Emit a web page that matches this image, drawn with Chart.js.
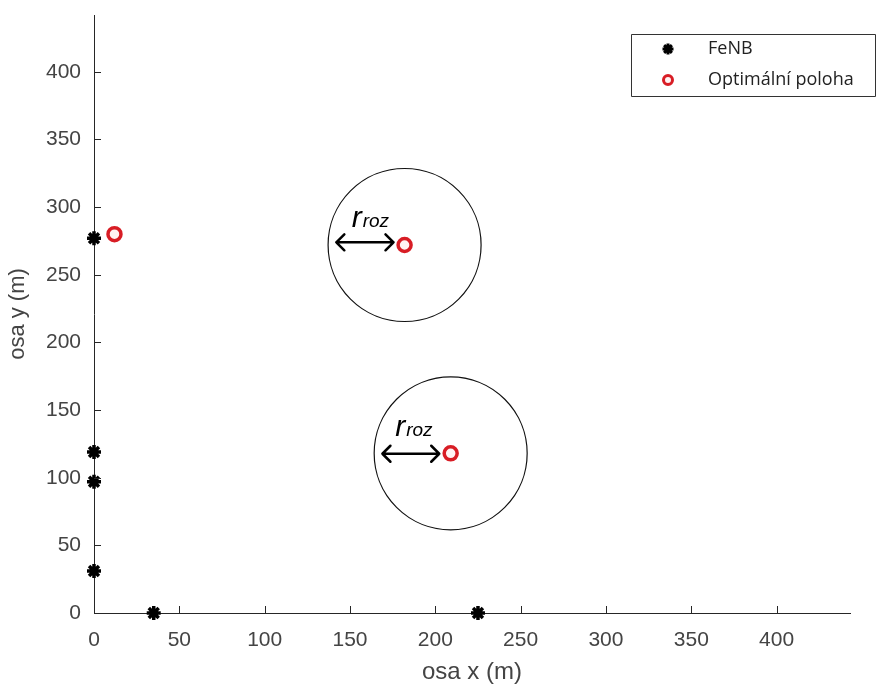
<!DOCTYPE html>
<html>
<head>
<meta charset="utf-8">
<script src="https://cdn.jsdelivr.net/npm/chart.js@4.4.1/dist/chart.umd.min.js"></script>
<style>
  html, body { margin: 0; padding: 0; background: #ffffff; }
  canvas { display: block; }
</style>
</head>
<body>
<canvas id="chart" width="876" height="691"></canvas>
<script>
// Axis ticks (m)
const xTicks = [0, 50, 100, 150, 200, 250, 300, 350, 400];
const yTicks = [0, 50, 100, 150, 200, 250, 300, 350, 400];
const xMax = 443;
const yMax = 442;

// FeNB base stations
const fenbX = [0, 0, 0, 0, 35, 225];
const fenbY = [277, 119, 97, 31, 0, 0];

// Optimal positions
const optX = [12, 182, 209];
const optY = [280, 272, 118];

// Optimal positions that get a coverage circle
const rangeIdx = [1, 2];

// r_roz arrows (start x, end x, y) and their labels
const arrowX0 = [142, 169];
const arrowX1 = [175.5, 202.3];
const arrowY = [274, 117.7];
const labelX = [151, 176.5];
const labelY = [285, 130.5];

const legendLabels = ['FeNB', 'Optimální poloha'];

const RED = '#d81d25';
const AXIS = '#262626';
const TEXT = '#444444';

const fenbPoints = fenbX.map((x, i) => ({ x, y: fenbY[i] }));
const optPoints = optX.map((x, i) => ({ x, y: optY[i] }));
const rangePoints = rangeIdx.map(i => ({ x: optX[i], y: optY[i] }));

// Inward tick marks, r_roz arrows with labels, and the boxed legend
const overlay = {
  id: 'overlay',
  afterDatasetsDraw(chart) {
    const ctx = chart.ctx;
    const xs = chart.scales.x, ys = chart.scales.y;
    const area = chart.chartArea;
    ctx.save();

    // tick marks pointing into the plot
    ctx.strokeStyle = AXIS;
    ctx.lineWidth = 1;
    ctx.beginPath();
    xTicks.forEach(v => {
      const px = Math.round(xs.getPixelForValue(v)) + 0.5;
      ctx.moveTo(px, area.bottom);
      ctx.lineTo(px, area.bottom - 7);
    });
    yTicks.forEach(v => {
      const py = Math.round(ys.getPixelForValue(v)) + 0.5;
      ctx.moveTo(area.left, py);
      ctx.lineTo(area.left + 7, py);
    });
    ctx.stroke();

    // double-headed arrows
    ctx.strokeStyle = '#000000';
    ctx.fillStyle = '#000000';
    ctx.lineWidth = 2.5;
    ctx.lineCap = 'round';
    ctx.lineJoin = 'round';
    arrowY.forEach((yv, i) => {
      const x0 = xs.getPixelForValue(arrowX0[i]);
      const x1 = xs.getPixelForValue(arrowX1[i]);
      const y = ys.getPixelForValue(yv);
      const h = 8;
      ctx.beginPath();
      ctx.moveTo(x0, y); ctx.lineTo(x1, y);
      ctx.moveTo(x0 + h, y - h); ctx.lineTo(x0, y); ctx.lineTo(x0 + h, y + h);
      ctx.moveTo(x1 - h, y - h); ctx.lineTo(x1, y); ctx.lineTo(x1 - h, y + h);
      ctx.stroke();

      const tx = xs.getPixelForValue(labelX[i]);
      const ty = ys.getPixelForValue(labelY[i]);
      ctx.textBaseline = 'alphabetic';
      ctx.textAlign = 'left';
      ctx.font = 'italic 30px "Liberation Sans", Arial, sans-serif';
      ctx.fillText('r', tx, ty);
      const w = ctx.measureText('r').width;
      ctx.font = 'italic 19px "Liberation Sans", Arial, sans-serif';
      ctx.fillText('roz', tx + w + 1, ty);
    });

    // legend
    const lx = 631.5, ly = 34.5, lw = 244, lh = 62;
    ctx.fillStyle = '#ffffff';
    ctx.fillRect(lx, ly, lw, lh);
    ctx.strokeStyle = '#333333';
    ctx.lineWidth = 1;
    ctx.lineCap = 'butt';
    ctx.strokeRect(lx, ly, lw, lh);

    const rows = [49, 80];
    ctx.strokeStyle = '#000000';
    ctx.fillStyle = '#000000';
    ctx.lineWidth = 3;
    Chart.helpers.drawPoint(ctx, { pointStyle: 'star', radius: 5.5, borderWidth: 3, rotation: 0 }, 668, rows[0]);
    ctx.strokeStyle = RED;
    ctx.fillStyle = '#fff4f4';
    ctx.lineWidth = 3;
    Chart.helpers.drawPoint(ctx, { pointStyle: 'circle', radius: 4.5, borderWidth: 3, rotation: 0 }, 668, rows[1]);

    ctx.fillStyle = '#222222';
    ctx.font = '18px "Open Sans", "Noto Sans", sans-serif';
    ctx.textBaseline = 'middle';
    ctx.textAlign = 'left';
    legendLabels.forEach((t, i) => ctx.fillText(t, 708, rows[i]));

    ctx.restore();
  }
};

new Chart(document.getElementById('chart'), {
  type: 'scatter',
  data: {
    datasets: [
      {
        label: 'r_roz',
        data: rangePoints,
        pointStyle: 'circle',
        pointRadius: 76.5,
        pointBorderWidth: 1.2,
        pointBorderColor: '#111111',
        pointBackgroundColor: 'rgba(0,0,0,0)',
        order: 3
      },
      {
        label: legendLabels[0],
        data: fenbPoints,
        pointStyle: 'star',
        pointRadius: 7,
        pointBorderWidth: 3.5,
        pointBorderColor: '#000000',
        pointBackgroundColor: '#000000',
        clip: false,
        order: 2
      },
      {
        label: legendLabels[1],
        data: optPoints,
        pointStyle: 'circle',
        pointRadius: 6.5,
        pointBorderWidth: 3.5,
        pointBorderColor: RED,
        pointBackgroundColor: '#fff4f4',
        clip: false,
        order: 1
      }
    ]
  },
  options: {
    responsive: false,
    animation: false,
    events: [],
    layout: { autoPadding: false, padding: { top: 15, right: 26, left: 0, bottom: 0 } },
    plugins: {
      legend: { display: false },
      tooltip: { enabled: false }
    },
    scales: {
      x: {
        type: 'linear',
        min: 0,
        max: xMax,
        afterBuildTicks: s => { s.ticks = xTicks.map(v => ({ value: v })); },
        afterFit: s => { s.height = 78; s.paddingLeft = 0; s.paddingRight = 0; },
        grid: { display: false, drawTicks: false },
        border: { display: true, color: AXIS, width: 1 },
        ticks: {
          padding: 15,
          color: TEXT,
          font: { family: '"Liberation Sans", Arial, sans-serif', size: 21 },
          maxRotation: 0
        },
        title: {
          display: true,
          text: 'osa x (m)',
          color: TEXT,
          font: { family: '"Liberation Sans", Arial, sans-serif', size: 24 },
          padding: { top: 0, bottom: 4 }
        }
      },
      y: {
        type: 'linear',
        min: 0,
        max: yMax,
        afterBuildTicks: s => { s.ticks = yTicks.map(v => ({ value: v })); },
        afterFit: s => { s.width = 94; s.paddingTop = 0; s.paddingBottom = 0; },
        grid: { display: false, drawTicks: false },
        border: { display: true, color: AXIS, width: 1 },
        ticks: {
          padding: 13,
          color: TEXT,
          font: { family: '"Liberation Sans", Arial, sans-serif', size: 21 }
        },
        title: {
          display: true,
          text: 'osa y (m)',
          color: TEXT,
          font: { family: '"Liberation Sans", Arial, sans-serif', size: 22 },
          padding: { top: 5, bottom: 0 }
        }
      }
    }
  },
  plugins: [overlay]
});
</script>
</body>
</html>
